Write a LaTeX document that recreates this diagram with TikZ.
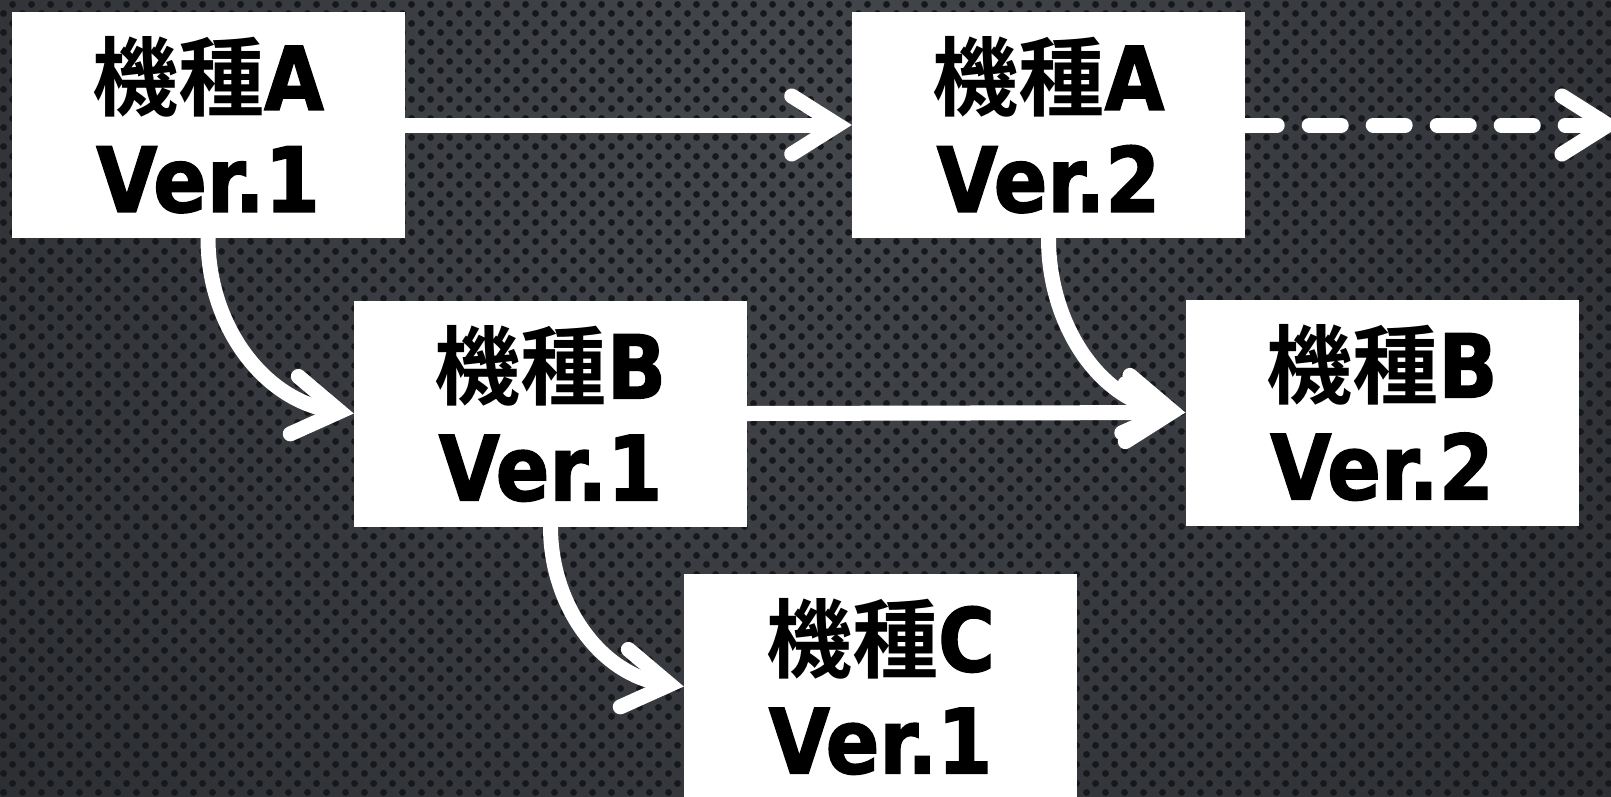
\documentclass[tikz,border=0pt]{standalone}
\usepackage{fontspec}
\newfontfamily\cjkf{Noto Sans CJK JP Bold}
\newfontfamily\latf{DejaVu Sans Bold}[FakeStretch=0.88, FakeBold=1.5]
\usetikzlibrary{arrows.meta,patterns.meta}
\definecolor{bgin}{HTML}{44474C}
\definecolor{bgout}{HTML}{2A2C30}
\definecolor{perfdot}{HTML}{16181B}
\tikzdeclarepattern{
  name=perf,
  type=colored,
  bounding box={(0pt,0pt) and (19pt,19pt)},
  tile size={(19pt,19pt)},
  code={
    \fill[perfdot] (4.75pt,4.75pt) circle (3.6pt);
    \fill[perfdot] (14.25pt,14.25pt) circle (3.6pt);
  }
}
\pgfdeclarelayer{bglayer}
\pgfdeclarelayer{arrlayer}
\pgfsetlayers{bglayer,arrlayer,main}
\newcommand\mtext[2]{{\cjkf\fontsize{86pt}{102pt}\selectfont 機種}{\latf\fontsize{88pt}{102pt}\selectfont #1}\\{\latf\fontsize{90pt}{102pt}\selectfont Ver.#2}}
\tikzset{
  mbox/.style={fill=white, minimum width=393pt, minimum height=226pt, inner sep=0pt,
    align=center, text=black, font={\fontsize{88pt}{102pt}\selectfont}},
  conn/.style={draw=white, line width=15pt, line cap=round,
    -{Straight Barb[length=46pt,width=58pt,line cap=round,line join=miter]}},
}
\begin{document}
\begin{tikzpicture}[x=1pt,y=1pt]
\useasboundingbox (0,0) rectangle (1611,-796);
\begin{pgfonlayer}{bglayer}
  \clip (0,0) rectangle (1611,-796);
  \shade[inner color=bgin, outer color=bgout] (805,-120) circle (1150);
  \fill[pattern=perf] (0,0) rectangle (1611,-796);
\end{pgfonlayer}

\node[mbox] (A1) at (208,-125) {\mtext{A}{1}};
\node[mbox] (A2) at (1048.5,-125) {\mtext{A}{2}};
\node[mbox] (B1) at (550.5,-413.5) {\mtext{B}{1}};
\node[mbox] (B2) at (1382,-412.5) {\mtext{B}{2}};
\node[mbox] (C1) at (880.5,-686.5) {\mtext{C}{1}};
\coordinate (Aout) at (1622,-125);

\begin{pgfonlayer}{arrlayer}
  \draw[conn] (A1.east) -- (A2.west);
  \draw[conn] (B1.east) -- (B2.west);
  \draw[conn, dash pattern=on 32pt off 32pt] (A2.east) -- (Aout);
  \draw[conn] (A1.south) to[out=-90,in=172] (B1.west);
  \draw[conn] (A2.south) to[out=-90,in=172] (B2.west);
  \draw[conn] (B1.south) to[out=-90,in=172] (C1.west);
\end{pgfonlayer}
\end{tikzpicture}
\end{document}
